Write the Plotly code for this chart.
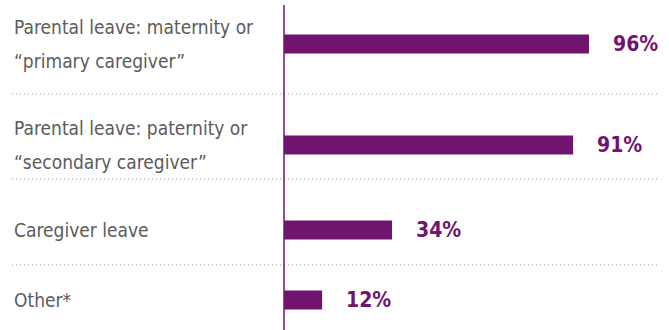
import plotly.graph_objects as go

# Data
categories = [
    "Parental leave: maternity or\n\u201cprimary caregiver\u201d",
    "Parental leave: paternity or\n\u201csecondary caregiver\u201d",
    "Caregiver leave",
    "Other*",
]
values = [96, 91, 34, 12]
value_labels = ["96%", "91%", "34%", "12%"]

# Layout (pixel-based vertical scale, 1 unit = 1 px)
W, H = 669, 330
row_centers = [44, 145, 230, 300]
separators = [94, 179, 265]
x0_px = 284            # pixel column of the zero line
px_per_pct = 3.177     # horizontal scale
purple = "#70146e"
gray_text = "#5b5b5b"
font_face = "DejaVu Sans Condensed, sans-serif"

fig = go.Figure()
fig.add_bar(
    x=values, y=row_centers, orientation="h", width=19,
    marker=dict(color=purple, line=dict(width=0)),
    hoverinfo="skip",
)

annotations = []
# Category labels, one annotation per text line
line_gap = 34
for label, yc in zip(categories, row_centers):
    lines = label.split("\n")
    n = len(lines)
    for i, ln in enumerate(lines):
        off = (i - (n - 1) / 2) * line_gap
        annotations.append(dict(
            text=ln, xref="paper", yref="y", x=12 / W, y=yc + off,
            xanchor="left", yanchor="middle", showarrow=False,
            font=dict(family=font_face, size=19, color=gray_text),
        ))
# Value labels
for v, t, yc in zip(values, value_labels, row_centers):
    annotations.append(dict(
        text=f"<b>{t}</b>", xref="x", yref="y", x=v, y=yc,
        xanchor="left", yanchor="middle", xshift=22, showarrow=False,
        font=dict(family=font_face, size=21, color=purple),
    ))

shapes = []
for sy in separators:
    shapes.append(dict(
        type="line", xref="paper", yref="y", x0=12 / W, x1=657 / W, y0=sy, y1=sy,
        line=dict(color="#9a9a9a", width=1, dash="1px,3px"), layer="below",
    ))
shapes.append(dict(
    type="line", xref="x", yref="y", x0=0, x1=0, y0=5, y1=H,
    line=dict(color=purple, width=1.5), layer="above",
))

fig.update_layout(
    width=W, height=H,
    margin=dict(l=0, r=0, t=0, b=0),
    paper_bgcolor="white", plot_bgcolor="white",
    showlegend=False,
    xaxis=dict(range=[-x0_px / px_per_pct, (W - x0_px) / px_per_pct],
               visible=False, fixedrange=True),
    yaxis=dict(range=[H, 0], visible=False, fixedrange=True),
    annotations=annotations, shapes=shapes,
)

fig.write_html("out.html", config={"displayModeBar": False})
